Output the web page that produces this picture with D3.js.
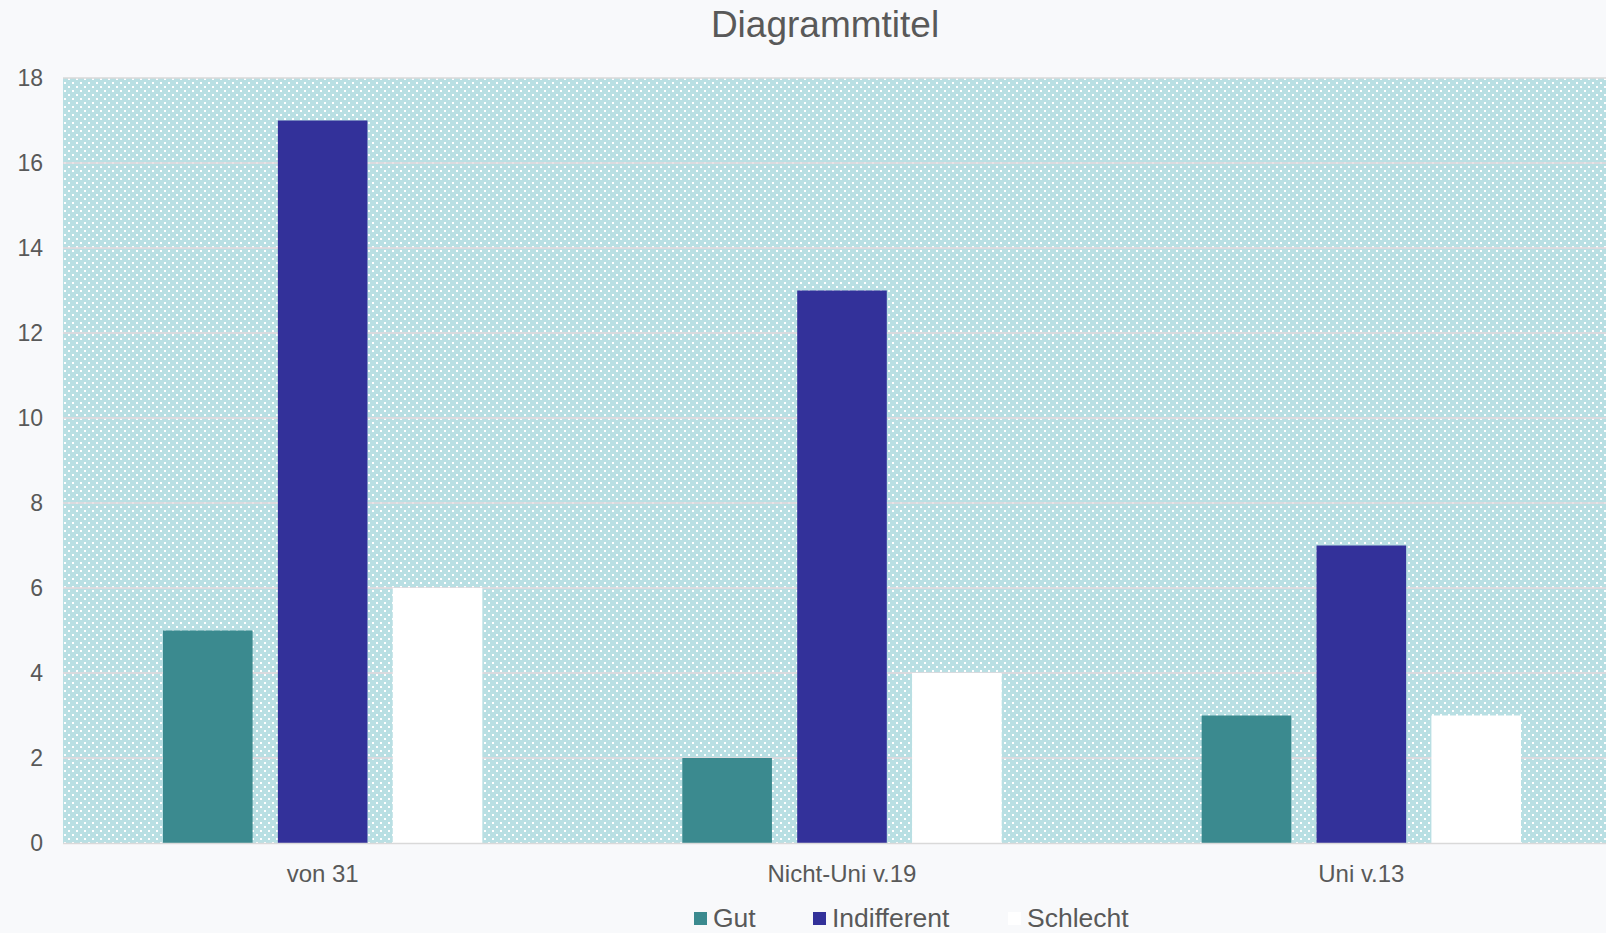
<!DOCTYPE html>
<html>
<head>
<meta charset="utf-8">
<script src="https://cdn.jsdelivr.net/npm/d3@7"></script>
<style>
  html, body { margin: 0; padding: 0; background: #f8f9fb; overflow: hidden; }
  svg { display: block; font-family: "Liberation Sans", Arial, sans-serif; }
</style>
</head>
<body>
<script>
// chart values
const categories = ['von 31', 'Nicht-Uni v.19', 'Uni v.13']
const seriesNames = ['Gut', 'Indifferent', 'Schlecht']
const gut = [5, 2, 3]
const indifferent = [17, 13, 7]
const schlecht = [6, 4, 3]
const yTicks = [0, 2, 4, 6, 8, 10, 12, 14, 16, 18]

const colors = ['#3b8a8f', '#33319a', '#ffffff']
const seriesValues = [gut, indifferent, schlecht]

const width = 1606, height = 933
const plotLeft = 63, plotRight = 1621, plotTop = 78, plotBottom = 843

const svg = d3.select('body').append('svg')
	.attr('width', width).attr('height', height)

// dotted fill for the plot area
const pat = svg.append('defs').append('pattern')
	.attr('id', 'dots')
	.attr('patternUnits', 'userSpaceOnUse')
	.attr('width', 8).attr('height', 8)
	.attr('x', plotLeft).attr('y', plotTop + 3)
pat.append('rect').attr('width', 8).attr('height', 8).attr('fill', '#b9dfe3')
pat.append('rect').attr('x', 1).attr('y', 1).attr('width', 2).attr('height', 2).attr('fill', '#fff')
pat.append('rect').attr('x', 5).attr('y', 5).attr('width', 2).attr('height', 2).attr('fill', '#fff')

const x0 = d3.scaleBand().domain(categories).range([plotLeft, plotRight]).padding(0)
const x1 = d3.scaleBand().domain(seriesNames)
	.range([100, x0.bandwidth() - 100]).paddingInner(0.22).paddingOuter(0)
const y = d3.scaleLinear().domain([0, 18]).range([plotBottom, plotTop])

svg.append('rect')
	.attr('x', plotLeft).attr('y', plotTop)
	.attr('width', plotRight - plotLeft).attr('height', plotBottom - plotTop)
	.attr('fill', 'url(#dots)')

// gridlines
svg.append('g')
	.selectAll('line')
	.data(yTicks.filter(d => d > 0))
	.enter().append('line')
		.attr('x1', plotLeft).attr('x2', plotRight)
		.attr('y1', d => y(d)).attr('y2', d => y(d))
		.attr('stroke', d => d === 18 ? '#d9d9d9' : '#e4d8dc')
		.attr('stroke-width', 1.5)

// bars
const groups = svg.append('g')
	.selectAll('g')
	.data(categories)
	.enter().append('g')
		.attr('transform', d => 'translate(' + x0(d) + ',0)')

groups.selectAll('rect')
	.data((d, i) => seriesNames.map((s, j) => ({ s: s, v: seriesValues[j][i], c: colors[j] })))
	.enter().append('rect')
		.attr('x', d => x1(d.s))
		.attr('y', d => y(d.v))
		.attr('width', x1.bandwidth())
		.attr('height', d => y(0) - y(d.v))
		.attr('fill', d => d.c)

// axis line
svg.append('line')
	.attr('x1', plotLeft).attr('x2', plotRight)
	.attr('y1', y(0) + 0.5).attr('y2', y(0) + 0.5)
	.attr('stroke', '#d9d9d9').attr('stroke-width', 1.5)

// y labels
const yAxis = d3.axisLeft(y).tickValues(yTicks).tickSize(0).tickPadding(20)
const yg = svg.append('g').attr('transform', 'translate(' + plotLeft + ',0)').call(yAxis)
yg.select('.domain').remove()
yg.selectAll('text')
	.attr('fill', '#595959').style('font-size', '23px')
	.style('font-family', '"Liberation Sans", Arial, sans-serif')

// x labels
const xAxis = d3.axisBottom(x0).tickSize(0).tickPadding(22)
const xg = svg.append('g').attr('transform', 'translate(0,' + plotBottom + ')').call(xAxis)
xg.select('.domain').remove()
xg.selectAll('text')
	.attr('fill', '#595959').style('font-size', '24px')
	.style('font-family', '"Liberation Sans", Arial, sans-serif')

// title
svg.append('text')
	.attr('x', 825).attr('y', 37)
	.attr('text-anchor', 'middle')
	.attr('fill', '#595959')
	.style('font-size', '37px')
	.text('Diagrammtitel')

// legend
const legendX = [694, 813, 1008]
const legend = svg.append('g')
	.selectAll('g')
	.data(seriesNames)
	.enter().append('g')
		.attr('transform', (d, i) => 'translate(' + legendX[i] + ',912)')
legend.append('rect')
	.attr('width', 13).attr('height', 13)
	.attr('fill', (d, i) => colors[i])
legend.append('text')
	.attr('x', 19).attr('y', 15)
	.attr('fill', '#595959')
	.style('font-size', '26.5px')
	.text(d => d)
</script>
</body>
</html>
